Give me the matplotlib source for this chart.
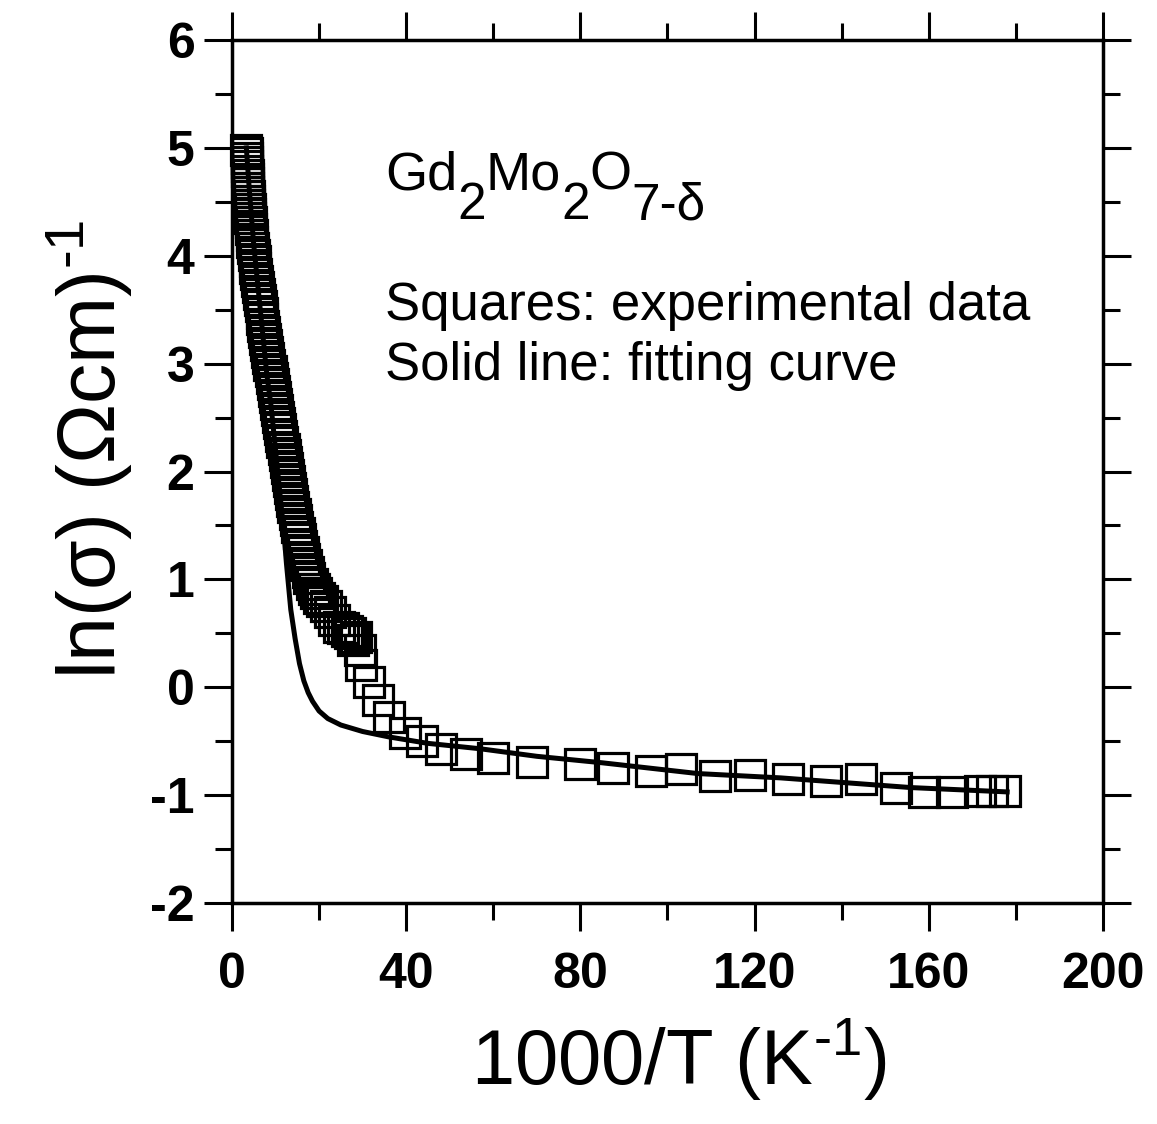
import matplotlib.pyplot as plt
import numpy as np

plt.rcParams['font.family'] = ['Liberation Sans', 'DejaVu Sans']
plt.rcParams['mathtext.fontset'] = 'custom'
plt.rcParams['mathtext.rm'] = 'Liberation Sans'
plt.rcParams['mathtext.it'] = 'Liberation Sans:italic'
plt.rcParams['mathtext.bf'] = 'Liberation Sans:bold'
plt.rcParams['axes.unicode_minus'] = False

# experimental data (squares): x = 1000/T, y = ln(sigma)
exp_x = [3.33, 3.36, 3.40, 3.44, 3.48, 3.52, 3.57, 3.62, 3.67, 3.72, 3.78, 3.84,
         3.90, 3.97, 4.04, 4.11, 4.19, 4.27, 4.40, 4.55, 4.70, 4.85, 5.00, 5.20,
         5.40, 5.60, 5.80, 6.00, 6.20, 6.40, 6.60, 6.80, 7.00, 7.20, 7.40, 7.60,
         7.85, 8.10, 8.35, 8.60, 8.85, 9.10, 9.35, 9.60, 9.85, 10.1, 10.35, 10.6,
         10.85, 11.1, 11.35, 11.6, 11.85, 12.1, 12.35, 12.6, 12.85, 13.1, 13.35,
         13.6, 13.85, 14.1, 14.4, 14.7, 15.0, 15.3, 15.6, 15.9, 16.2, 16.6, 17.0,
         17.4, 17.8, 18.3, 18.8, 19.4, 20.0, 20.7, 21.5, 22.5, 23.5, 24.6, 25.5,
         26.5, 27.0, 27.8, 28.5, 29.5, 29.6, 31.5, 33.5, 36.0, 39.7, 43.6, 48.0,
         53.7, 60.0, 69.0, 80.0, 87.5, 96.2, 103.0, 111.0, 119.0, 127.7, 136.4,
         144.4, 152.5, 159.0, 165.3, 171.7, 174.5, 177.5]
exp_y = [4.98, 4.95, 4.91, 4.87, 4.83, 4.79, 4.75, 4.71, 4.67, 4.63, 4.59, 4.55,
         4.51, 4.47, 4.43, 4.39, 4.35, 4.31, 4.25, 4.19, 4.13, 4.07, 4.01, 3.95,
         3.89, 3.83, 3.77, 3.71, 3.65, 3.59, 3.53, 3.47, 3.41, 3.35, 3.29, 3.23,
         3.17, 3.11, 3.05, 2.99, 2.93, 2.87, 2.81, 2.75, 2.69, 2.63, 2.57, 2.51,
         2.45, 2.39, 2.33, 2.27, 2.21, 2.15, 2.09, 2.03, 1.97, 1.91, 1.85,
         1.79, 1.73, 1.67, 1.61, 1.55, 1.49, 1.43, 1.37, 1.31, 1.25, 1.19, 1.13,
         1.07, 1.01, 0.96, 0.91, 0.87, 0.83, 0.80, 0.75, 0.70, 0.62, 0.56, 0.55,
         0.52, 0.50, 0.44, 0.47, 0.35, 0.21, 0.05, -0.12, -0.28, -0.42, -0.50, -0.57,
         -0.62, -0.66, -0.69, -0.71, -0.75, -0.78, -0.76, -0.82, -0.81, -0.85, -0.87,
         -0.85, -0.93, -0.97, -0.97, -0.96, -0.96, -0.96]

# fitting curve
fit_x = [3.3, 4.0, 5.0, 6.0, 7.0, 8.0, 9.0, 10.0, 11.0, 12.0, 12.5, 13.5, 14.5,
         15.5, 16.5, 17.5, 18.5, 20.0, 22.0, 25.0, 30.0, 36.0, 45.0, 57.0, 70.0,
         85.0, 107.0, 126.0, 156.0, 178.0]
fit_y = [5.0, 4.6, 4.1, 3.7, 3.3, 2.9, 2.6, 2.2, 1.8, 1.4, 1.15, 0.72, 0.45,
         0.22, 0.06, -0.05, -0.13, -0.22, -0.29, -0.35, -0.41, -0.46, -0.52, -0.57, -0.64,
         -0.70, -0.80, -0.84, -0.93, -0.97]

xticks = [0, 40, 80, 120, 160, 200]
yticks = [-2, -1, 0, 1, 2, 3, 4, 5, 6]

# formula pieces: text, font size, baseline shift (data units)
formula = [('Gd', 39, 0.0), ('2', 37, -0.27), ('Mo', 39, 0.0), ('2', 37, -0.27),
           ('O', 39, 0.0), ('7-\u03b4', 37, -0.27)]

fig = plt.figure(figsize=(11.57, 11.24), dpi=100)
ax = fig.add_axes([0.2005, 0.1966, 0.7528, 0.7678])

ax.plot(exp_x, exp_y, 's', ms=21.5, mfc='none', mec='black', mew=2.3, clip_on=False)
ax.plot(fit_x, fit_y, '-', color='black', lw=3.6)

ax.set_xlim(0, 200)
ax.set_ylim(-2, 6)
ax.set_xticks(xticks)
ax.set_xticks(np.arange(20, 200, 40), minor=True)
ax.set_yticks(yticks)
ax.set_yticks(np.arange(-1.5, 6, 1), minor=True)
ax.tick_params(which='both', direction='out', top=True, right=True,
               width=2.2, color='black')
ax.tick_params(which='major', length=20)
ax.tick_params(which='minor', length=12)
ax.tick_params(axis='x', pad=15)
ax.tick_params(axis='y', pad=7)
for lab in ax.get_xticklabels() + ax.get_yticklabels():
    lab.set_fontsize(36)
    lab.set_fontweight('bold')
for sp in ax.spines.values():
    sp.set_linewidth(2.5)

ax.set_xlabel('1000/T (K$^{\\mathrm{\u20101}}$)', fontsize=56)
ax.xaxis.set_label_coords(0.513, -0.132)
ax.set_ylabel('ln(\u03c3) (\u03a9cm)$^{\\mathrm{\u20101}}$', fontsize=58)
ax.yaxis.set_label_coords(-0.113, 0.526)

renderer = fig.canvas.get_renderer()
xpos = 35.1
for s, size, dy in formula:
    t = ax.text(xpos, 4.61 + dy, s, fontsize=size, va='baseline')
    bb = t.get_window_extent(renderer)
    xpos = ax.transData.inverted().transform((bb.x1, bb.y0))[0]

ax.text(35.1, 3.40, 'Squares: experimental data', fontsize=38, va='baseline')
ax.text(35.1, 2.85, 'Solid line: fitting curve', fontsize=38, va='baseline')

fig.savefig('out.png', dpi=100)
